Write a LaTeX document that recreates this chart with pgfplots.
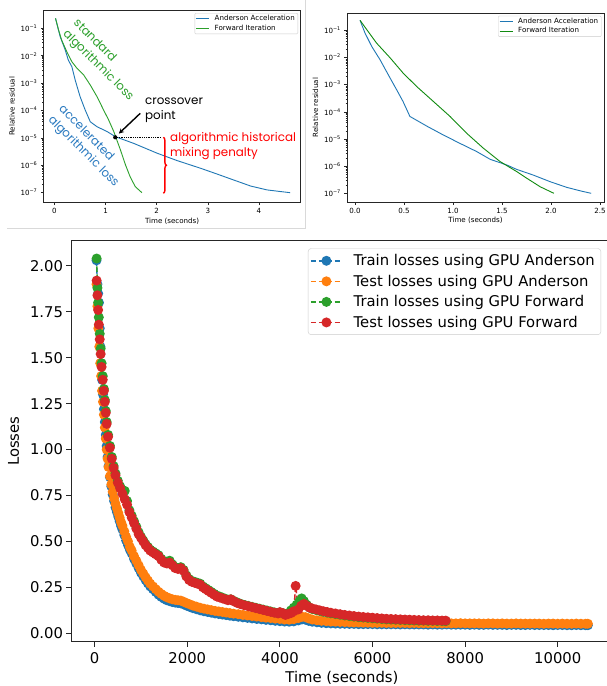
\documentclass[border=0pt]{standalone}
\usepackage{fontspec}
\setmainfont{DejaVu Sans}
\newfontfamily\poppins{Poppins}
\usepackage{pgfplots}
\pgfplotsset{compat=1.18}
\usetikzlibrary{arrows.meta,decorations.pathreplacing}

\definecolor{tabblue}{HTML}{1F77B4}
\definecolor{taborange}{HTML}{FF7F0E}
\definecolor{tabgreen}{HTML}{2CA02C}
\definecolor{tabred}{HTML}{D62728}
\definecolor{darkgreen}{HTML}{108A10}
\definecolor{annblue}{HTML}{2A7AC0}

\newcommand{\smallfont}{\fontsize{7.1}{8.2}\selectfont}
\newcommand{\bigfont}{\fontsize{14.8}{17}\selectfont}
\newcommand{\annfont}{\poppins\fontsize{11.9}{15}\selectfont}

\pgfplotsset{
  lossline/.style={dashed, dash pattern=on 5.5pt off 2.4pt, line width=1.5pt, color=#1,
    mark=*, mark size=4.2pt, mark options={solid, fill=#1, draw=#1}},
}

\begin{document}
\begin{tikzpicture}
\useasboundingbox (0,0) rectangle (606pt,686pt);
\fill[white] (0,0) rectangle (606pt,686pt);
\draw[black!15, line width=0.8pt] (7pt,458pt) -- (305.5pt,458pt) -- (305.5pt,686pt);

% ---------- top left ----------
\begin{axis}[
  ymode=log, scale only axis,
  at={(43.5pt,483.5pt)}, anchor=south west,
  width=257.2pt, height=192.5pt,
  xmin=-0.215, xmax=4.816, ymin=4.38e-8, ymax=0.4667,
  font=\smallfont,
  tick align=outside, tick pos=left,
  axis line style={black!85, line width=0.7pt},
  major tick style={black!85, line width=0.6pt}, minor tick style={black!85, line width=0.4pt},
  major tick length=2.6pt, minor tick length=1.5pt,
  ytick={1e-7,1e-6,1e-5,1e-4,1e-3,1e-2,1e-1},
  yticklabels={10\textsuperscript{−7},10\textsuperscript{−6},10\textsuperscript{−5},10\textsuperscript{−4},10\textsuperscript{−3},10\textsuperscript{−2},10\textsuperscript{−1}},
  xtick={0,1,2,3,4}, xticklabels={0,1,2,3,4},
  xlabel={Time (seconds)}, ylabel={Relative residual},
  xlabel style={yshift=3pt}, ylabel style={yshift=-1pt},
  legend cell align=left,
  legend image code/.code={\draw[#1] (0pt,0pt) -- (13pt,0pt);},
  legend style={at={(0.9895,0.984)}, anchor=north east, font=\smallfont,
    draw=black!20, rounded corners=1pt, inner sep=1pt,
    nodes={inner ysep=1.2pt, inner xsep=2pt},
    /tikz/every odd column/.append style={column sep=3pt}},
]
\addplot[tabblue, line width=0.9pt] coordinates {
(0.02,0.232) (0.11,0.0501) (0.21,0.0162) (0.27,0.00692) (0.34,0.00398) (0.405,0.00129)
(0.50,3.24e-4) (0.60,1.05e-4) (0.70,3.89e-5) (0.83,2.57e-5) (1.03,1.70e-5) (1.19,1.11e-5)
(1.55,6.3e-6) (2.01,2.75e-6) (2.40,1.48e-6) (2.86,7.76e-7) (3.18,4.79e-7) (3.51,2.88e-7)
(3.84,1.74e-7) (4.16,1.26e-7) (4.42,1.10e-7) (4.61,1.0e-7)
};
\addlegendentry{Anderson Acceleration}
\addplot[tabgreen, line width=0.9pt] coordinates {
(0.02,0.232) (0.08,0.0871) (0.14,0.0372) (0.24,0.0141) (0.34,6.03e-3) (0.44,3.47e-3)
(0.57,2.0e-3) (0.70,8.51e-4) (0.83,3.24e-4) (0.96,1.05e-4) (1.06,4.47e-5) (1.16,1.70e-5)
(1.22,8.32e-6) (1.29,3.63e-6) (1.39,1.02e-6) (1.48,3.80e-7) (1.58,1.66e-7) (1.71,1.0e-7)
};
\addlegendentry{Forward Iteration}
% annotations
\fill (axis cs:1.188,1.05e-5) circle (2.1pt);
\draw[-{Stealth[length=5pt,width=5pt]}, line width=1.4pt] (axis cs:1.678,7.9e-5) -- (axis cs:1.26,1.44e-5);
\draw[densely dotted, line width=0.8pt] (axis cs:1.188,1.05e-5) -- (axis cs:2.07,1.05e-5);
\draw[red, line width=1.4pt, decorate, decoration={brace, amplitude=3pt}] (axis cs:2.13,1.05e-5) -- (axis cs:2.13,9.5e-8);
\node[anchor=west, align=left, font=\annfont, inner sep=0pt] at (axis cs:1.77,1e-4) {crossover\\point};
\node[anchor=west, align=left, text=red, font=\annfont, inner sep=0pt] at (axis cs:2.26,5.2e-6) {algorithmic historical\\mixing penalty};
\node[rotate=-45, align=left, text=tabgreen, font=\annfont, inner sep=0pt] at (axis cs:0.953,6.7e-3) {standard\\algorithmic loss};
\node[rotate=-45, align=left, text=annblue, font=\annfont, inner sep=0pt] at (axis cs:0.665,4.8e-6) {accelerated\\algorithmic loss};
\end{axis}

% ---------- top right ----------
\begin{axis}[
  ymode=log, scale only axis,
  at={(347pt,484pt)}, anchor=south west,
  width=257pt, height=189pt,
  xmin=-0.082, xmax=2.541, ymin=4.79e-8, ymax=0.4355,
  font=\smallfont,
  tick align=outside, tick pos=left,
  axis line style={black!85, line width=0.7pt},
  major tick style={black!85, line width=0.6pt}, minor tick style={black!85, line width=0.4pt},
  major tick length=2.6pt, minor tick length=1.5pt,
  ytick={1e-7,1e-6,1e-5,1e-4,1e-3,1e-2,1e-1},
  yticklabels={10\textsuperscript{−7},10\textsuperscript{−6},10\textsuperscript{−5},10\textsuperscript{−4},10\textsuperscript{−3},10\textsuperscript{−2},10\textsuperscript{−1}},
  xtick={0,0.5,1,1.5,2,2.5}, xticklabels={0.0,0.5,1.0,1.5,2.0,2.5},
  xlabel={Time (seconds)}, ylabel={Relative residual},
  xlabel style={yshift=3pt}, ylabel style={yshift=-1pt},
  legend cell align=left,
  legend image code/.code={\draw[#1] (0pt,0pt) -- (13pt,0pt);},
  legend style={at={(0.99,0.985)}, anchor=north east, font=\smallfont,
    draw=black!20, rounded corners=1pt, inner sep=1pt,
    nodes={inner ysep=1.2pt, inner xsep=2pt},
    /tikz/every odd column/.append style={column sep=3pt}},
]
\addplot[tabblue, line width=0.9pt] coordinates {
(0.051,0.234) (0.102,0.0794) (0.17,0.0257) (0.255,8.32e-3) (0.34,2.29e-3) (0.425,6.46e-4)
(0.49,2.40e-4) (0.56,6.76e-5) (0.60,5.6e-5) (0.74,2.88e-5) (0.90,1.41e-5) (1.07,6.92e-6)
(1.24,3.47e-6) (1.38,1.78e-6) (1.55,1.10e-6) (1.65,7.6e-7) (1.82,4.68e-7) (1.99,2.69e-7)
(2.16,1.66e-7) (2.30,1.23e-7) (2.41,1.0e-7)
};
\addlegendentry{Anderson Acceleration}
\addplot[darkgreen, line width=0.9pt] coordinates {
(0.051,0.234) (0.12,0.106) (0.22,0.0339) (0.36,9.55e-3) (0.49,2.69e-3) (0.63,8.51e-4)
(0.80,2.40e-4) (0.97,6.76e-5) (1.14,1.62e-5) (1.31,4.57e-6) (1.48,1.48e-6) (1.65,6.31e-7)
(1.755,3.55e-7) (1.89,1.74e-7) (2.03,1.0e-7)
};
\addlegendentry{Forward Iteration}
\end{axis}

% ---------- bottom ----------
\begin{axis}[
  at={(71.5pt,44.3pt)}, anchor=south west, scale only axis,
  width=540.9pt, height=401pt,
  xmin=-500, xmax=11180, ymin=-0.0457, ymax=2.137,
  font=\bigfont,
  tick align=outside, tick pos=left,
  scaled x ticks=false, scaled y ticks=false,
  axis line style={black!85, line width=1pt},
  major tick style={black!85, line width=1pt}, major tick length=5pt,
  xtick={0,2000,4000,6000,8000,10000}, xticklabels={0,2000,4000,6000,8000,10000},
  ytick={0,0.25,0.5,0.75,1,1.25,1.5,1.75,2},
  yticklabels={0.00,0.25,0.50,0.75,1.00,1.25,1.50,1.75,2.00},
  xticklabel style={yshift=-2pt},
  xlabel={Time (seconds)}, ylabel={Losses},
  xlabel style={yshift=-1pt}, ylabel style={yshift=4pt},
  legend cell align=left,
  legend image code/.code={\draw[#1, mark repeat=2, mark phase=2] plot coordinates {(0pt,0pt) (15.5pt,0pt) (31pt,0pt)};},
  legend style={at={(0.979,0.981)}, anchor=north east, font=\bigfont,
    draw=black!20, rounded corners=3pt, fill=white,
    inner sep=2pt, nodes={inner ysep=3.9pt, inner xsep=4pt},
    /tikz/every odd column/.append style={column sep=7pt}},
]
% Anderson train
\addplot[lossline=tabblue] coordinates {
(40,2.03) (60,1.90) (75,1.85) (93,1.80) (110,1.66) (125,1.56) (140,1.47) (160,1.38)
(180,1.30) (200,1.22) (220,1.15) (240,1.08) (260,1.02) (280,0.96) (300,0.91) (330,0.85)
(360,0.80) (390,0.755) (420,0.72) (450,0.685) (480,0.66) (510,0.635) (540,0.61) (570,0.585)
(600,0.565) (640,0.535) (680,0.505) (720,0.48) (760,0.455) (800,0.435) (850,0.405) (900,0.38)
(950,0.355) (1000,0.33) (1050,0.31) (1100,0.29) (1150,0.272) (1200,0.255) (1260,0.24) (1320,0.225)
(1380,0.21) (1440,0.198) (1500,0.188) (1560,0.18) (1620,0.175) (1680,0.17) (1740,0.167) (1800,0.165)
(1860,0.163) (1920,0.158) (1980,0.151) (2050,0.144) (2120,0.137) (2200,0.131) (2280,0.125) (2360,0.12)
(2440,0.116) (2520,0.112) (2600,0.108) (2680,0.105) (2760,0.102) (2840,0.099) (2920,0.096) (3000,0.093)
(3100,0.09) (3200,0.087) (3300,0.084) (3400,0.081) (3500,0.078) (3600,0.076) (3700,0.073) (3800,0.071)
(3900,0.068) (4000,0.066) (4100,0.064) (4200,0.063) (4300,0.065) (4400,0.07) (4480,0.076) (4550,0.074)
(4620,0.068) (4700,0.063) (4800,0.06) (4900,0.057) (5000,0.055) (5100,0.054) (5200,0.053) (5300,0.052)
(5400,0.052) (5500,0.051) (5600,0.051) (5700,0.05) (5800,0.05) (5900,0.05) (6000,0.05) (6100,0.049)
(6200,0.049) (6300,0.049) (6400,0.049) (6500,0.049) (6600,0.048) (6700,0.049) (6800,0.048) (6900,0.048)
(7000,0.048) (7100,0.048) (7200,0.047) (7300,0.048) (7400,0.047) (7500,0.047) (7600,0.048) (7700,0.047)
(7800,0.047) (7900,0.047) (8000,0.047) (8100,0.046) (8200,0.047) (8300,0.046) (8400,0.046) (8500,0.047)
(8600,0.046) (8700,0.046) (8800,0.046) (8900,0.045) (9000,0.046) (9100,0.046) (9200,0.045) (9300,0.045)
(9400,0.046) (9500,0.045) (9600,0.045) (9700,0.045) (9800,0.045) (9900,0.044) (10000,0.045) (10100,0.045)
(10200,0.044) (10300,0.044) (10400,0.045) (10500,0.044) (10600,0.044) (10650,0.044)
};
\addlegendentry{Train losses using GPU Anderson}
% Anderson test
\addplot[lossline=taborange] coordinates {
(40,1.90) (60,1.78) (80,1.66) (100,1.56) (120,1.47) (140,1.40) (160,1.32) (180,1.26)
(200,1.19) (220,1.12) (240,1.06) (260,1.00) (280,0.95) (300,0.905) (330,0.855) (360,0.81)
(390,0.77) (420,0.735) (450,0.705) (480,0.68) (510,0.655) (540,0.63) (570,0.605) (600,0.585)
(640,0.555) (680,0.525) (720,0.50) (760,0.47) (800,0.45) (850,0.42) (900,0.395) (950,0.37)
(1000,0.345) (1050,0.325) (1100,0.305) (1150,0.287) (1200,0.27) (1260,0.255) (1320,0.24) (1380,0.226)
(1440,0.214) (1500,0.204) (1560,0.196) (1620,0.19) (1680,0.185) (1740,0.182) (1800,0.18) (1860,0.178)
(1920,0.172) (1980,0.165) (2050,0.158) (2120,0.151) (2200,0.145) (2280,0.139) (2360,0.134) (2440,0.13)
(2520,0.126) (2600,0.122) (2680,0.119) (2760,0.116) (2840,0.113) (2920,0.11) (3000,0.107) (3100,0.104)
(3200,0.1) (3300,0.097) (3400,0.094) (3500,0.091) (3600,0.088) (3700,0.085) (3800,0.083) (3900,0.08)
(4000,0.078) (4100,0.075) (4200,0.074) (4300,0.077) (4400,0.083) (4480,0.09) (4550,0.088) (4620,0.081)
(4700,0.075) (4800,0.071) (4900,0.068) (5000,0.066) (5100,0.064) (5200,0.063) (5300,0.062) (5400,0.061)
(5500,0.06) (5600,0.059) (5700,0.059) (5800,0.058) (5900,0.058) (6000,0.057) (6100,0.057) (6200,0.057)
(6300,0.056) (6400,0.056) (6500,0.056) (6600,0.056) (6700,0.056) (6800,0.055) (6900,0.056) (7000,0.055)
(7100,0.055) (7200,0.055) (7300,0.055) (7400,0.055) (7500,0.054) (7600,0.055) (7700,0.054) (7800,0.054)
(7900,0.055) (8000,0.054) (8100,0.054) (8200,0.054) (8300,0.054) (8400,0.053) (8500,0.054) (8600,0.054)
(8700,0.053) (8800,0.054) (8900,0.053) (9000,0.053) (9100,0.054) (9200,0.053) (9300,0.053) (9400,0.053)
(9500,0.053) (9600,0.053) (9700,0.052) (9800,0.053) (9900,0.053) (10000,0.052) (10100,0.053) (10200,0.052)
(10300,0.052) (10400,0.053) (10500,0.052) (10600,0.052) (10650,0.052)
};
\addlegendentry{Test losses using GPU Anderson}
% Forward train
\addplot[lossline=tabgreen] coordinates {
(43,2.04) (60,1.88) (75,1.80) (90,1.72) (110,1.63) (130,1.55) (150,1.47) (175,1.40)
(200,1.33) (220,1.27) (240,1.21) (260,1.15) (290,1.08) (330,1.02) (370,0.96) (410,0.91)
(450,0.87) (500,0.83) (550,0.80) (600,0.78) (650,0.775) (700,0.72) (750,0.67) (800,0.64)
(850,0.61) (900,0.58) (950,0.55) (1000,0.525) (1050,0.505) (1100,0.485) (1150,0.47) (1200,0.455)
(1260,0.445) (1320,0.435) (1380,0.425) (1440,0.405) (1500,0.39) (1560,0.39) (1620,0.395) (1680,0.375)
(1740,0.36) (1800,0.355) (1860,0.36) (1920,0.345) (1980,0.315) (2040,0.295) (2100,0.285) (2160,0.28)
(2220,0.275) (2280,0.27) (2340,0.255) (2400,0.245) (2460,0.235) (2520,0.225) (2580,0.215) (2640,0.205)
(2700,0.2) (2760,0.194) (2820,0.188) (2880,0.183) (2940,0.185) (3000,0.177) (3080,0.168) (3160,0.16)
(3240,0.154) (3320,0.149) (3400,0.144) (3480,0.139) (3560,0.134) (3640,0.129) (3720,0.124) (3800,0.119)
(3880,0.114) (3960,0.11) (4000,0.114) (4060,0.11) (4120,0.104) (4180,0.11) (4240,0.125) (4300,0.14)
(4360,0.155) (4420,0.175) (4470,0.19) (4520,0.175) (4580,0.155) (4640,0.14) (4700,0.132) (4780,0.127)
(4860,0.122) (4940,0.117) (5020,0.113) (5100,0.109) (5200,0.105) (5300,0.101) (5400,0.097) (5500,0.094)
(5600,0.091) (5700,0.088) (5800,0.086) (5900,0.084) (6000,0.082) (6100,0.08) (6200,0.078) (6300,0.076)
(6400,0.075) (6500,0.074) (6600,0.073) (6700,0.072) (6800,0.071) (6900,0.07) (7000,0.069) (7100,0.069)
(7200,0.068) (7300,0.068) (7400,0.067) (7500,0.067) (7580,0.066)
};
\addlegendentry{Train losses using GPU Forward}
% Forward test
\addplot[lossline=tabred] coordinates {
(43,1.92) (60,1.84) (75,1.76) (90,1.68) (110,1.60) (130,1.52) (150,1.45) (175,1.38)
(200,1.32) (220,1.26) (240,1.20) (260,1.14) (290,1.07) (330,1.01) (370,0.95) (410,0.90)
(450,0.86) (500,0.82) (550,0.79) (600,0.76) (650,0.73) (700,0.70) (750,0.66) (800,0.63)
(850,0.60) (900,0.57) (950,0.54) (1000,0.52) (1050,0.50) (1100,0.48) (1150,0.465) (1200,0.45)
(1260,0.44) (1320,0.43) (1380,0.42) (1440,0.40) (1500,0.385) (1560,0.38) (1620,0.385) (1680,0.37)
(1740,0.355) (1800,0.35) (1860,0.355) (1920,0.34) (1980,0.31) (2040,0.29) (2100,0.28) (2160,0.275)
(2220,0.27) (2280,0.265) (2340,0.25) (2400,0.24) (2460,0.23) (2520,0.22) (2580,0.21) (2640,0.20)
(2700,0.195) (2760,0.19) (2820,0.185) (2880,0.18) (2940,0.185) (3000,0.175) (3080,0.165) (3160,0.158)
(3240,0.152) (3320,0.147) (3400,0.142) (3480,0.137) (3560,0.132) (3640,0.127) (3720,0.122) (3800,0.117)
(3880,0.112) (3960,0.108) (4000,0.115) (4060,0.11) (4120,0.10) (4180,0.105) (4240,0.11) (4300,0.12)
(4340,0.258) (4400,0.13) (4460,0.15) (4520,0.16) (4580,0.15) (4640,0.14) (4700,0.135) (4780,0.13)
(4860,0.125) (4940,0.12) (5020,0.116) (5100,0.112) (5200,0.108) (5300,0.104) (5400,0.10) (5500,0.097)
(5600,0.094) (5700,0.091) (5800,0.089) (5900,0.087) (6000,0.085) (6100,0.083) (6200,0.081) (6300,0.079)
(6400,0.078) (6500,0.077) (6600,0.076) (6700,0.075) (6800,0.074) (6900,0.073) (7000,0.072) (7100,0.071)
(7200,0.071) (7300,0.070) (7400,0.070) (7500,0.069) (7580,0.069)
};
\addlegendentry{Test losses using GPU Forward}
\end{axis}
\end{tikzpicture}
\end{document}
